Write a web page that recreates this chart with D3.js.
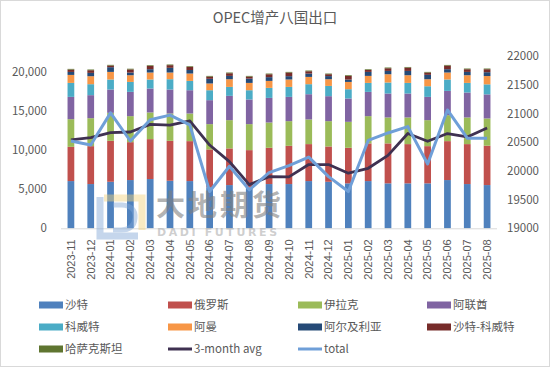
<!DOCTYPE html>
<html>
<head>
<meta charset="utf-8">
<script src="https://cdn.jsdelivr.net/npm/d3@7"></script>
<style>
  html, body { margin: 0; padding: 0; background: #fff; }
  svg { display: block; font-family: "Noto Sans CJK SC", "Noto Sans", sans-serif; }
</style>
</head>
<body>
<svg id="chart" width="550" height="367"></svg>
<script>
const months = ["2023-11","2023-12","2024-01","2024-02","2024-03","2024-04","2024-05","2024-06","2024-07","2024-08","2024-09","2024-10","2024-11","2024-12","2025-01","2025-02","2025-03","2025-04","2025-05","2025-06","2025-07","2025-08"];
const saudi   = [6030,5650,5940,6160,6290,6070,6030,5250,5520,5200,5650,5650,6030,5940,5740,6030,5740,5740,5740,6160,5650,5520];
const russia  = [4370,4840,5230,4840,5095,5100,5100,4820,4680,4780,4630,4880,4720,4510,4540,4810,5100,5010,4750,4970,5100,5030];
const iraq    = [3535,3570,3570,3320,3405,3490,3530,3230,3610,3320,3230,3150,3150,3230,3315,3480,3310,3400,3320,3315,3400,3475];
const uae     = [2845,2940,2980,3100,3060,3060,2970,3060,3100,3150,3140,3100,3220,3190,2980,3100,3060,3060,2970,3100,3190,3075];
const kuwait  = [1785,1400,1280,1270,1150,1315,1190,1270,1145,1180,1280,1275,1280,1310,1185,1145,1405,1355,1360,1455,1225,1280];
const oman    = [1020,1020,970,855,890,855,940,860,980,935,890,945,930,855,930,895,1055,980,895,890,980,1060];
const algeria = [380,425,600,340,425,600,450,600,425,550,480,425,425,400,300,510,425,550,560,425,425,490];
const saudiKuwait = [300,340,210,400,425,340,400,280,340,255,370,460,300,240,460,255,340,425,290,460,340,380];
const kazakh  = [90,90,90,90,85,85,85,90,90,90,90,85,90,85,95,85,95,80,85,85,90,90];
const avg3    = [20540,20580,20665,20677,20810,20795,20870,20450,20160,19760,19900,19895,20110,20110,19960,20045,20270,20650,20515,20650,20590,20745];
const total   = [20520,20450,21010,20520,20890,20970,20800,19640,20080,19670,19970,20090,20240,19900,19640,20530,20660,20770,20120,21060,20570,20570];

const seriesNames = ["沙特","俄罗斯","伊拉克","阿联酋","科威特","阿曼","阿尔及利亚","沙特-科威特","哈萨克斯坦"];
const seriesValues = [saudi, russia, iraq, uae, kuwait, oman, algeria, saudiKuwait, kazakh];
const colors = ["#4F81BD","#C0504D","#9BBB59","#8064A2","#4BACC6","#F79646","#254A77","#772C2A","#5F7530"];
const leftTicks = [0,5000,10000,15000,20000];
const rightTicks = [19000,19500,20000,20500,21000,21500,22000];

const svg = d3.select("#chart");
const W = 550, H = 367;
const plot = {left: 61, right: 497, top: 56, bottom: 228.3};

svg.append("rect").attr("x",0.5).attr("y",0.5).attr("width",W-1).attr("height",H-1)
  .attr("fill","#fff").attr("stroke","#d9d9d9");

svg.append("text").attr("x",275).attr("y",23).attr("text-anchor","middle")
  .attr("font-size",14.5).attr("fill","#595959").text("OPEC增产八国出口");

const x = d3.scaleBand().domain(months).range([plot.left, plot.right]).padding(0);
const yL = d3.scaleLinear().domain([0,22000]).range([plot.bottom, plot.top]);
const yR = d3.scaleLinear().domain([19000,22000]).range([plot.bottom, plot.top]);

// stacked data
const table = months.map((m,i) => {
  const o = {month: m};
  seriesNames.forEach((n,k) => o[n] = seriesValues[k][i]);
  return o;
});
const stack = d3.stack().keys(seriesNames)(table);
const bw = x.bandwidth()*0.34;

svg.append("g").selectAll("g").data(stack).join("g")
  .attr("fill",(d,i)=>colors[i])
  .selectAll("rect").data(d=>d).join("rect")
  .attr("x", d => x(d.data.month) + x.bandwidth()/2 - bw/2)
  .attr("width", bw)
  .attr("y", d => yL(d[1]))
  .attr("height", d => yL(d[0]) - yL(d[1]));

// axis line
svg.append("line").attr("x1",plot.left).attr("x2",plot.right)
  .attr("y1",plot.bottom+0.5).attr("y2",plot.bottom+0.5).attr("stroke","#d9d9d9");

// left axis
const gL = svg.append("g").attr("transform",`translate(${plot.left},0)`)
  .call(d3.axisLeft(yL).tickValues(leftTicks).tickFormat(d3.format(",")).tickSize(0).tickPadding(14));
gL.select(".domain").remove();
gL.selectAll("text").attr("font-size",11.5).attr("fill","#595959").attr("font-family","'Noto Sans CJK SC', sans-serif");

// right axis
const gR = svg.append("g").attr("transform",`translate(${plot.right},0)`)
  .call(d3.axisRight(yR).tickValues(rightTicks).tickFormat(d3.format("d")).tickSize(0).tickPadding(10));
gR.select(".domain").remove();
gR.selectAll("text").attr("font-size",11.5).attr("fill","#595959").attr("font-family","'Noto Sans CJK SC', sans-serif");

// watermark
const wm = svg.append("g").attr("opacity",0.45);
wm.append("path").attr("d","M100,197 L100,236 L138,236").attr("fill","none").attr("stroke","#7FA6D6").attr("stroke-width",7);
wm.append("path").attr("d","M104,198 L142,198 L142,230").attr("fill","none").attr("stroke","#F2D27A").attr("stroke-width",7);
wm.append("path").attr("d","M113,205 L122,205 Q136,206 135,218 Q134,230 121,230 L113,230").attr("fill","none").attr("stroke","#7FA6D6").attr("stroke-width",5);
svg.append("text").attr("x",156).attr("y",216).attr("font-size",29).attr("font-weight","bold")
  .attr("fill","#7f7f7f").attr("fill-opacity",0.6).attr("letter-spacing",3).text("大地期货");
svg.append("text").attr("x",157).attr("y",235.5).attr("font-size",11).attr("font-weight","bold")
  .attr("font-family","'DejaVu Sans', sans-serif")
  .attr("fill","#a6a6a6").attr("fill-opacity",0.55).attr("letter-spacing",2.6).text("DADI FUTURES");

// x labels
const gX = svg.append("g").attr("transform",`translate(0,${plot.bottom})`)
  .call(d3.axisBottom(x).tickSize(0).tickPadding(0));
gX.select(".domain").remove();
gX.selectAll("text")
  .attr("font-size",11).attr("fill","#595959")
  .attr("text-anchor","end")
  .attr("transform","rotate(-90)")
  .attr("x",-11).attr("y",0).attr("dy","0.35em");

// lines
const lineGen = d3.line().x((d,i)=>x(months[i])+x.bandwidth()/2).y(d=>yR(d));
svg.append("path").datum(avg3).attr("d",lineGen).attr("fill","none")
  .attr("stroke","#3F3151").attr("stroke-width",2.8).attr("stroke-linejoin","round");
svg.append("path").datum(total).attr("d",lineGen).attr("fill","none")
  .attr("stroke","#6F9FD8").attr("stroke-width",3).attr("stroke-linejoin","round");

// legend
const legendItems = seriesNames.map((n,i)=>({name:n,color:colors[i],type:"bar"}))
  .concat([{name:"3-month avg",color:"#3F3151",type:"line"},{name:"total",color:"#6F9FD8",type:"line"}]);
const colX = [39,168,298,427];
const rowY = [305,327,349];
const lg = svg.append("g");
legendItems.forEach((d,i)=>{
  const cx = colX[i%4], cy = rowY[Math.floor(i/4)];
  if (d.type==="bar") {
    lg.append("rect").attr("x",cx).attr("y",cy-3.5).attr("width",24).attr("height",7).attr("fill",d.color);
  } else {
    lg.append("line").attr("x1",cx).attr("x2",cx+24).attr("y1",cy).attr("y2",cy)
      .attr("stroke",d.color).attr("stroke-width",3);
  }
  lg.append("text").attr("x",cx+26).attr("y",cy).attr("dy","0.36em")
    .attr("font-size",11.5).attr("fill","#595959").text(d.name);
});
</script>
</body>
</html>
